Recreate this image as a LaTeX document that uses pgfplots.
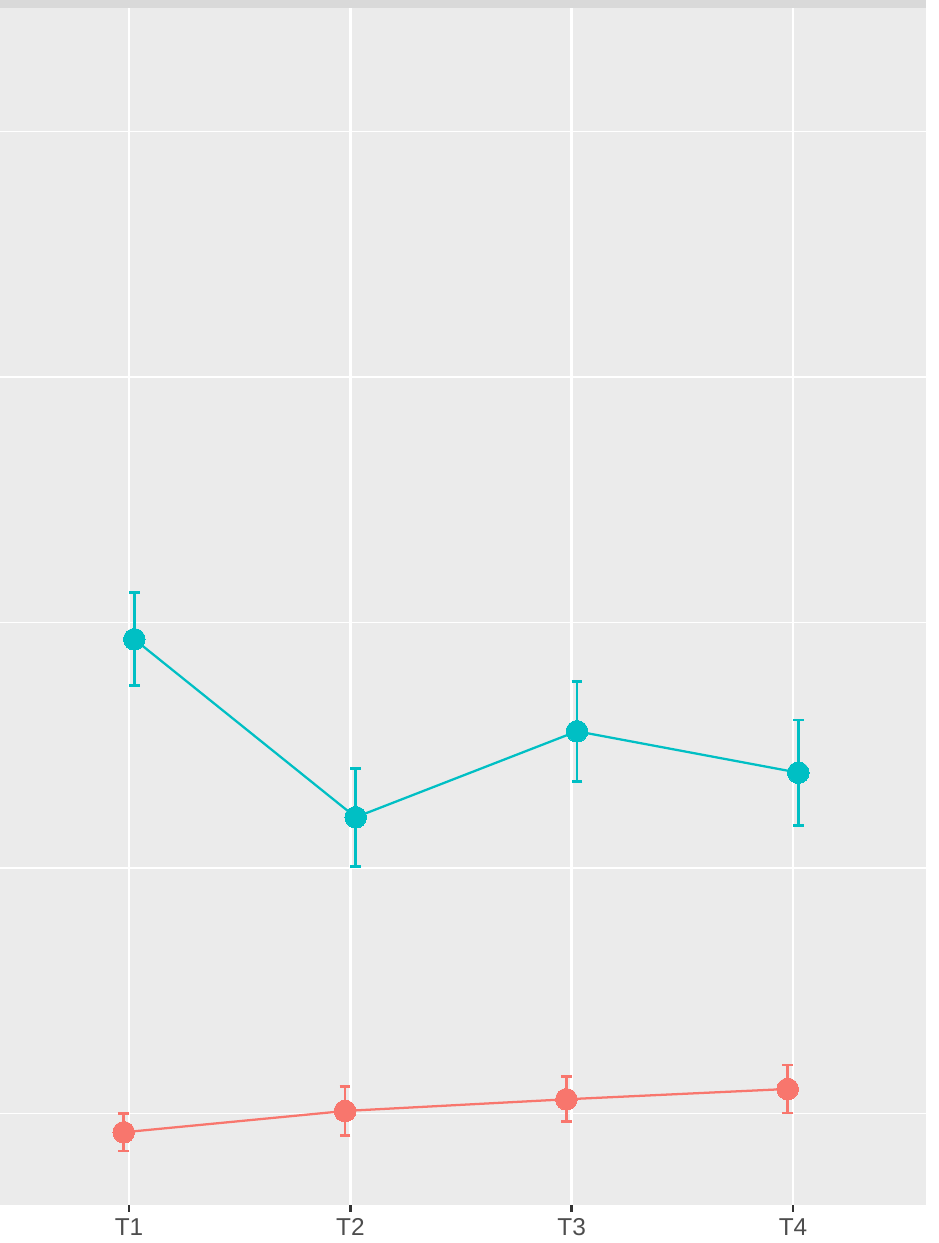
\documentclass[border=0pt]{standalone}
\usepackage{pgfplots}
\pgfplotsset{compat=1.18}
\usepackage{fontspec}
\setmainfont{Liberation Sans}
\definecolor{ggred}{HTML}{F8766D}
\definecolor{ggcyan}{HTML}{00BFC4}
\definecolor{panel}{HTML}{EBEBEB}
\definecolor{stripc}{HTML}{D9D9D9}
\definecolor{tickc}{HTML}{333333}
\definecolor{labc}{HTML}{4D4D4D}
\begin{document}
\begin{tikzpicture}
\useasboundingbox (0,0) rectangle (704.25pt,932.25pt);
\fill[stripc] (0,926.25pt) rectangle (694.5pt,932.25pt);
\begin{axis}[
  at={(0pt,28.5pt)}, anchor=south west,
  scale only axis, width=694.5pt, height=897.75pt,
  xmin=0.417, xmax=4.601, ymin=1.3136, ymax=3.7515,
  axis background/.style={fill=panel},
  axis line style={draw=none},
  xtick={1,2,3,4}, xticklabels={T1,T2,T3,T4},
  ytick={2,3}, minor ytick={1.5,2.5,3.5}, yticklabels={},
  ytick style={draw=none},
  minor tick length=0pt,
  xtick pos=lower, tick align=outside,
  major tick length=5.25pt,
  xtick style={color=tickc, line width=2pt},
  xticklabel style={font=\fontsize{18.3pt}{20pt}\selectfont, text=labc, inner sep=0pt, yshift=-4.5pt},
  grid=both,
  major grid style={white, line width=2.1pt},
  minor grid style={white, line width=1.05pt},
  clip=false,
]
\addplot[ggred, line width=1.7pt, mark=*, mark size=8.1pt, mark options={fill=ggred, draw=ggred, line width=0pt},
  error bars/.cd, y dir=both, y explicit,
  error bar style={ggred, line width=2pt},
  error mark options={rotate=90, mark size=4pt, line width=2pt, ggred}]
coordinates {
 (0.976,1.4617) +- (0,0.038)
 (1.976,1.5051) +- (0,0.0496)
 (2.976,1.5289) +- (0,0.0458)
 (3.976,1.5499) +- (0,0.049)
};
\addplot[ggcyan, line width=1.7pt, mark=*, mark size=8.1pt, mark options={fill=ggcyan, draw=ggcyan, line width=0pt},
  error bars/.cd, y dir=both, y explicit,
  error bar style={ggcyan, line width=2pt},
  error mark options={rotate=90, mark size=4pt, line width=2pt, ggcyan}]
coordinates {
 (1.024,2.4658) +- (0,0.0947)
 (2.024,2.1033) +- (0,0.0998)
 (3.024,2.2784) +- (0,0.102)
 (4.024,2.1941) +- (0,0.107)
};
\end{axis}
\end{tikzpicture}
\end{document}
